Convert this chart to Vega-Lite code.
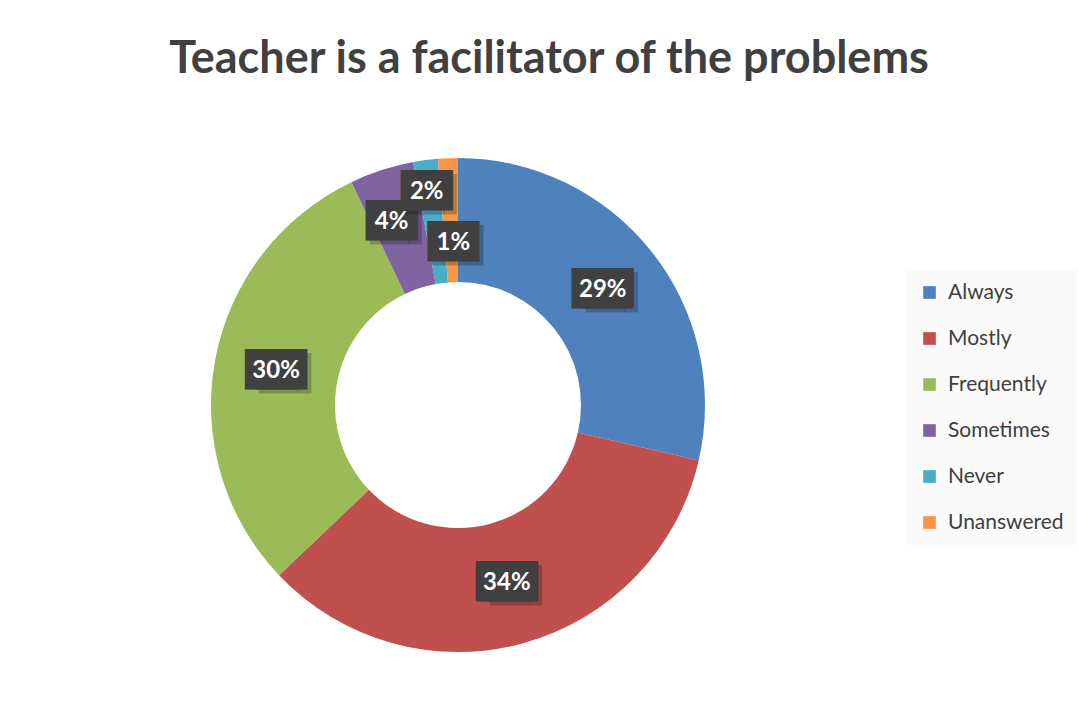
{
  "$schema": "https://vega.github.io/schema/vega-lite/v6.json",
  "autosize": {"type": "none"},
  "width": 900,
  "height": 610,
  "padding": {"left": 8, "top": 100, "right": 171, "bottom": 5},
  "background": "#ffffff",
  "title": {
    "text": "Teacher is a facilitator of the problems",
    "font": "Lato",
    "fontSize": 45,
    "fontWeight": "bold",
    "color": "#404040",
    "anchor": "middle",
    "frame": "group",
    "baseline": "alphabetic",
    "offset": -18,
    "dx": 91
  },
  "data": {
    "values": [
      {"category": "Always", "value": 0.286},
      {"category": "Mostly", "value": 0.343},
      {"category": "Frequently", "value": 0.300},
      {"category": "Sometimes", "value": 0.042},
      {"category": "Never", "value": 0.016},
      {"category": "Unanswered", "value": 0.013}
    ]
  },
  "transform": [
    {"window": [{"op": "row_number", "as": "idx"}]}
  ],
  "encoding": {
    "theta": {"field": "value", "type": "quantitative", "stack": true},
    "order": {"field": "idx", "type": "quantitative", "sort": "ascending"}
  },
  "layer": [
    {
      "mark": {"type": "arc", "outerRadius": 247, "innerRadius": 123, "strokeWidth": 0},
      "encoding": {
        "color": {
          "field": "category",
          "type": "nominal",
          "sort": ["Always", "Mostly", "Frequently", "Sometimes", "Never", "Unanswered"],
          "scale": {
            "domain": ["Always", "Mostly", "Frequently", "Sometimes", "Never", "Unanswered"],
            "range": ["#4f81bd", "#c0504d", "#9bbb59", "#8064a2", "#4bacc6", "#f79646"]
          },
          "legend": {
            "title": null,
            "orient": "none",
            "legendX": 899,
            "legendY": 170,
            "fillColor": "#fafafa",
            "padding": 12,
            "symbolType": "square",
            "symbolSize": 160,
            "symbolStrokeWidth": 0,
            "labelFont": "Lato",
            "labelFontSize": 21,
            "labelColor": "#404040",
            "labelOffset": 8,
            "rowPadding": 24,
            "labelLimit": 300
          }
        }
      }
    },
    {
      "encoding": {
        "opacity": {"condition": {"test": "datum.value >= 0.1", "value": 1}, "value": 0}
      },
      "layer": [
        {"mark": {"type": "text", "radius": 185, "font": "DejaVu Sans", "fontSize": 34, "text": "▐█▌", "fill": "#000000", "fillOpacity": 0.22, "dx": 9, "dy": 4}},
        {"mark": {"type": "text", "radius": 185, "font": "DejaVu Sans", "fontSize": 34, "text": "▐█▌", "fill": "#404040", "dx": -5}},
        {"mark": {"type": "text", "radius": 185, "font": "DejaVu Sans", "fontSize": 34, "text": "▐█▌", "fill": "#404040", "dx": 5}},
        {"mark": {"type": "text", "radius": 185, "font": "Lato", "fontSize": 24, "fontWeight": "bold", "fill": "#ffffff"},
         "encoding": {"text": {"field": "value", "type": "quantitative", "format": ".0%"}}}
      ]
    },
    {
      "encoding": {
        "opacity": {"condition": {"test": "datum.category === 'Sometimes'", "value": 1}, "value": 0}
      },
      "layer": [
        {"mark": {"type": "text", "radius": 192, "font": "DejaVu Sans", "fontSize": 34, "text": "▐█▌", "fill": "#000000", "fillOpacity": 0.22, "dx": -3, "dy": 4}},
        {"mark": {"type": "text", "radius": 192, "font": "DejaVu Sans", "fontSize": 34, "text": "▐█▌", "fill": "#404040", "dx": -7}},
        {"mark": {"type": "text", "radius": 192, "font": "Lato", "fontSize": 24, "fontWeight": "bold", "fill": "#ffffff", "dx": -7},
         "encoding": {"text": {"field": "value", "type": "quantitative", "format": ".0%"}}}
      ]
    },
    {
      "encoding": {
        "opacity": {"condition": {"test": "datum.category === 'Never'", "value": 1}, "value": 0}
      },
      "layer": [
        {"mark": {"type": "text", "radius": 215, "font": "DejaVu Sans", "fontSize": 34, "text": "▐█▌", "fill": "#000000", "fillOpacity": 0.22, "dx": 1, "dy": 4}},
        {"mark": {"type": "text", "radius": 215, "font": "DejaVu Sans", "fontSize": 34, "text": "▐█▌", "fill": "#404040", "dx": -3}},
        {"mark": {"type": "text", "radius": 215, "font": "Lato", "fontSize": 24, "fontWeight": "bold", "fill": "#ffffff", "dx": -3},
         "encoding": {"text": {"field": "value", "type": "quantitative", "format": ".0%"}}}
      ]
    },
    {
      "encoding": {
        "opacity": {"condition": {"test": "datum.category === 'Unanswered'", "value": 1}, "value": 0}
      },
      "layer": [
        {"mark": {"type": "text", "radius": 162, "font": "DejaVu Sans", "fontSize": 34, "text": "▐█▌", "fill": "#000000", "fillOpacity": 0.22, "dx": 6, "dy": 4}},
        {"mark": {"type": "text", "radius": 162, "font": "DejaVu Sans", "fontSize": 34, "text": "▐█▌", "fill": "#404040", "dx": 2}},
        {"mark": {"type": "text", "radius": 162, "font": "Lato", "fontSize": 24, "fontWeight": "bold", "fill": "#ffffff", "dx": 2},
         "encoding": {"text": {"field": "value", "type": "quantitative", "format": ".0%"}}}
      ]
    }
  ],
  "config": {
    "view": {"stroke": null}
  }
}
